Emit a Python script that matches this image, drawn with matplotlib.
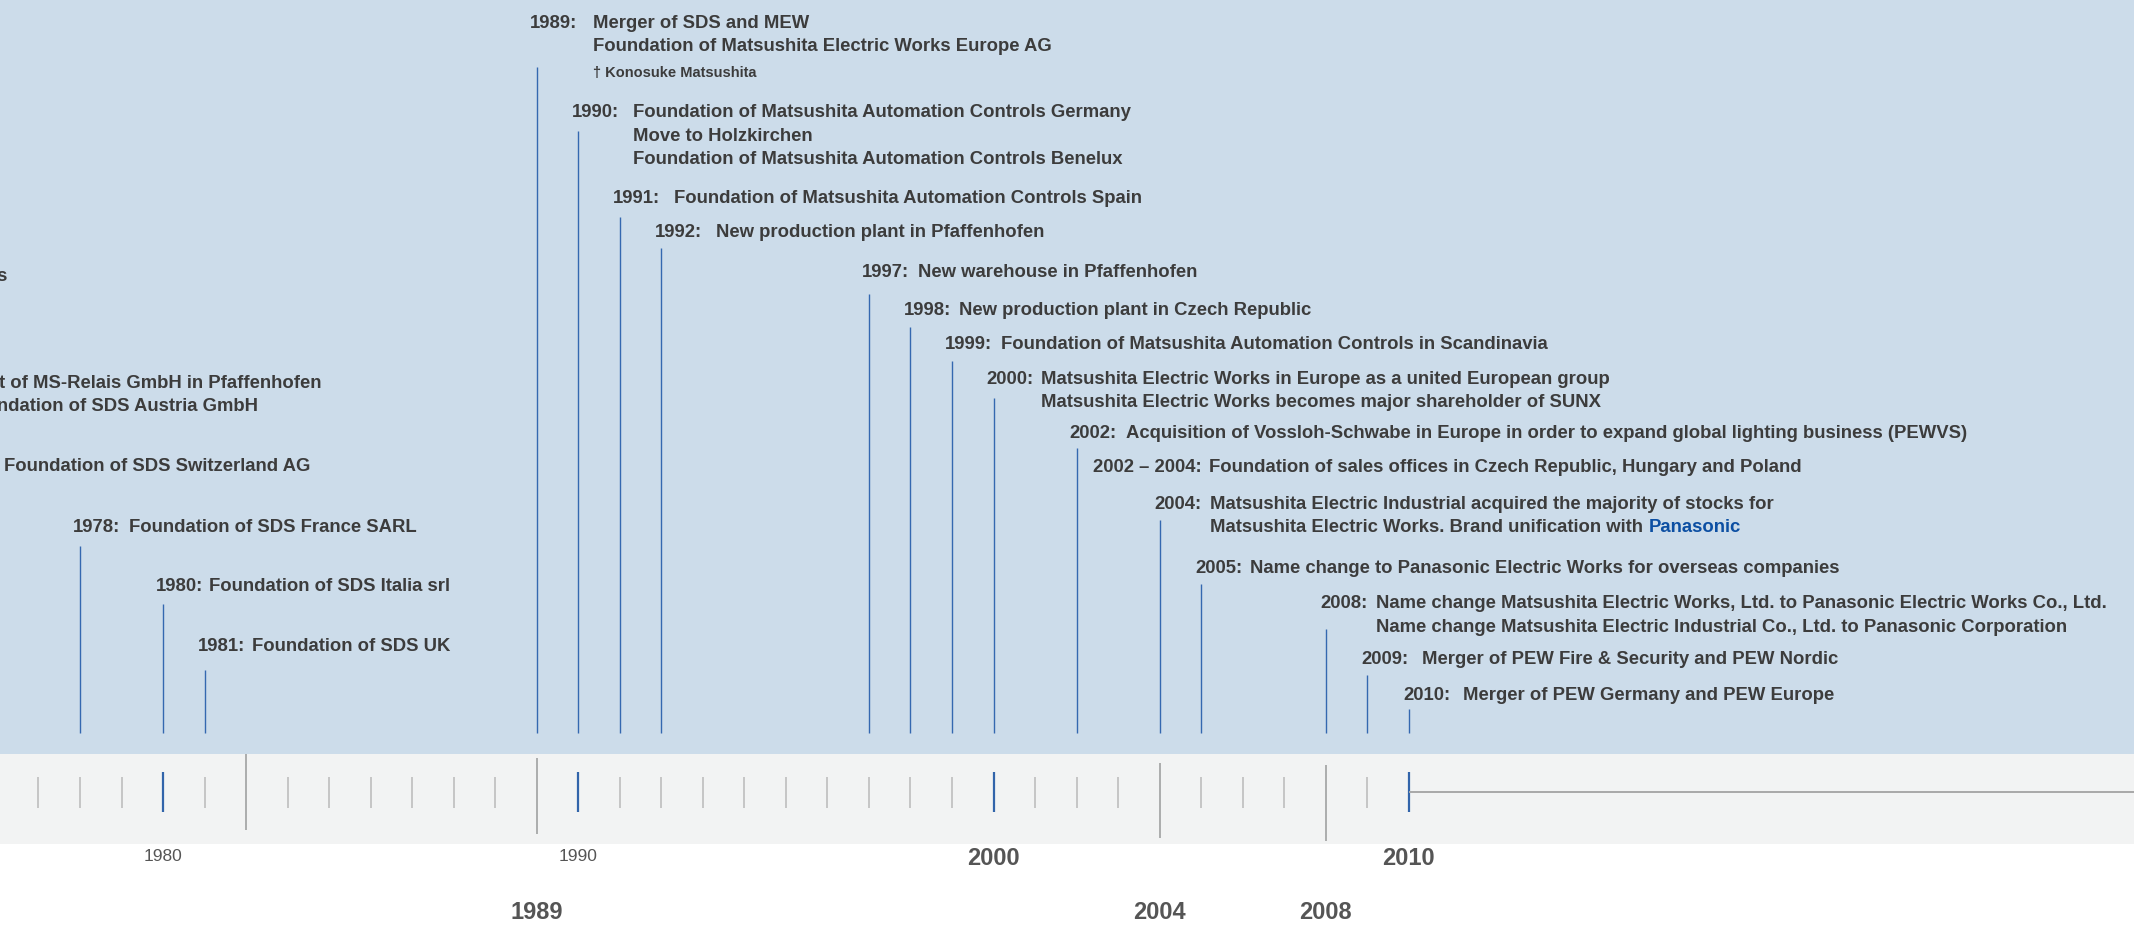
import numpy as np
import matplotlib.pyplot as plt

# timeline entries
years = [1970, 1974, 1975, 1978, 1980, 1981, 1989, 1990, 1991, 1992,
         1997, 1998, 1999, 2000, 2002, 2002, 2004, 2005, 2008, 2009, 2010]
year_text = ["1970:", "1974:", "1975:", "1978:", "1980:", "1981:", "1989:", "1990:",
             "1991:", "1992:", "1997:", "1998:", "1999:", "2000:", "2002:",
             "2002 \u2013 2004:", "2004:", "2005:", "2008:", "2009:", "2010:"]
events = [
    ["Founding of SDS-Relais"],
    ["Start of MS-Relais GmbH in Pfaffenhofen", "Foundation of SDS Austria GmbH"],
    ["Foundation of SDS Switzerland AG"],
    ["Foundation of SDS France SARL"],
    ["Foundation of SDS Italia srl"],
    ["Foundation of SDS UK"],
    ["Merger of SDS and MEW", "Foundation of Matsushita Electric Works Europe AG"],
    ["Foundation of Matsushita Automation Controls Germany", "Move to Holzkirchen",
     "Foundation of Matsushita Automation Controls Benelux"],
    ["Foundation of Matsushita Automation Controls Spain"],
    ["New production plant in Pfaffenhofen"],
    ["New warehouse in Pfaffenhofen"],
    ["New production plant in Czech Republic"],
    ["Foundation of Matsushita Automation Controls in Scandinavia"],
    ["Matsushita Electric Works in Europe as a united European group",
     "Matsushita Electric Works becomes major shareholder of SUNX"],
    ["Acquisition of Vossloh-Schwabe in Europe in order to expand global lighting business (PEWVS)"],
    ["Foundation of sales offices in Czech Republic, Hungary and Poland"],
    ["Matsushita Electric Industrial acquired the majority of stocks for",
     "Matsushita Electric Works. Brand unification with"],
    ["Name change to Panasonic Electric Works for overseas companies"],
    ["Name change Matsushita Electric Works, Ltd. to Panasonic Electric Works Co., Ltd.",
     "Name change Matsushita Electric Industrial Co., Ltd. to Panasonic Corporation"],
    ["Merger of PEW Fire & Security and PEW Nordic"],
    ["Merger of PEW Germany and PEW Europe"],
]
has_line = [True] * 15 + [False] + [True] * 5
brand = "Panasonic"
obituary = "\u2020 Konosuke Matsushita"

# axis
decade_years = [1980, 1990, 2000, 2010]
decade_labels = ["1980", "1990", "2000", "2010"]
decade_bold = [False, False, True, True]
marker_years = [1982, 1989, 2004, 2008]
marker_labels = ["", "1989", "2004", "2008"]

# layout (pixel units of a 1568 px wide view, y down)
PX_YEAR = 30.51
label_y = [203, 282, 343, 388, 431, 475, 17, 83, 146, 171, 200, 228, 253,
           279, 319, 344, 371, 418, 444, 485, 511]
line_top = [217, 296, 357, 402, 445, 493, 50, 97, 160, 183, 217, 241, 266,
            293, 330, 0, 383, 430, 463, 497, 522]
col_gap = [41, 41, 41, 41, 39, 40, 46, 45, 45, 45, 41, 41, 41, 40, 41, 85,
           41, 40, 41, 44, 44]
label_dx = [-5] * 15 + [12] + [-4] * 5
LINE_H = 17
LINE_BOTTOM = 540
marker_top = [555, 558, 562, 563]
marker_bottom = [611, 614, 617, 619]

SKY = "#ccdcea"
BAND = "#f2f3f3"
BLUE = "#3468b0"
TEXT = "#3c3c3c"
FONT = "Liberation Sans"


def draw_events(ax):
    for i, yr in enumerate(years):
        x0 = yr + label_dx[i] / PX_YEAR
        y0 = label_y[i]
        ax.text(x0, y0, year_text[i], fontsize=13.3, fontweight="bold",
                color=TEXT, va="center", ha="left", family=FONT)
        xc = x0 + col_gap[i] / PX_YEAR
        last = None
        for j, line in enumerate(events[i]):
            last = ax.text(xc, y0 + j * LINE_H, line, fontsize=13.3,
                           fontweight="bold", color=TEXT, va="center",
                           ha="left", family=FONT)
        if year_text[i] == "2004:":
            ax.annotate(brand, xy=(1, 0), xycoords=last, xytext=(4, 0),
                        textcoords="offset points", va="bottom", ha="left",
                        fontsize=13.3, fontweight="bold", color="#0c4fa3",
                        family=FONT)
        if year_text[i] == "1989:":
            ax.text(xc, 54, obituary, fontsize=10.5, fontweight="bold",
                    color=TEXT, va="center", ha="left", family=FONT)
        if has_line[i]:
            ax.vlines(yr, line_top[i], LINE_BOTTOM, color=BLUE, lw=1.0)


def draw_axis(ax, xmax):
    ax.axhspan(0, 555, color=SKY, lw=0)
    ax.axhspan(555, 621, color=BAND, lw=0)
    tick_years = np.arange(1976, 2011)
    minor = [y for y in tick_years if y not in decade_years and y not in marker_years]
    ax.vlines(minor, 572, 594.5, color="#c2c2c2", lw=1.3)
    ax.vlines(decade_years, 568, 598, color="#3264aa", lw=1.6)
    ax.vlines(marker_years, marker_top, marker_bottom, color="#999999", lw=1.1)
    ax.hlines(583, 2010, xmax, color="#a8a8a8", lw=1.4)
    for yr, lab, bold in zip(decade_years, decade_labels, decade_bold):
        if bold:
            ax.text(yr, 631, lab, fontsize=17, fontweight="bold", color="#555555",
                    ha="center", va="center", family=FONT)
        else:
            ax.text(yr, 630, lab, fontsize=12.5, color="#555555",
                    ha="center", va="center", family=FONT)
    for yr, lab in zip(marker_years, marker_labels):
        ax.text(yr, 671, lab, fontsize=17, fontweight="bold", color="#555555",
                ha="center", va="center", family=FONT)


def main():
    fig = plt.figure(figsize=(21.34, 9.29), dpi=100)
    ax = fig.add_axes([0, 0, 1, 1])
    xmin = 1980 - 119.8 / PX_YEAR
    xmax = 1980 + (1568 - 119.8) / PX_YEAR
    ax.set_xlim(xmin, xmax)
    ax.set_ylim(683, 0)
    ax.axis("off")
    draw_axis(ax, xmax)
    draw_events(ax)
    fig.savefig("out.png", dpi=100, facecolor="white")


if __name__ == "__main__":
    main()
